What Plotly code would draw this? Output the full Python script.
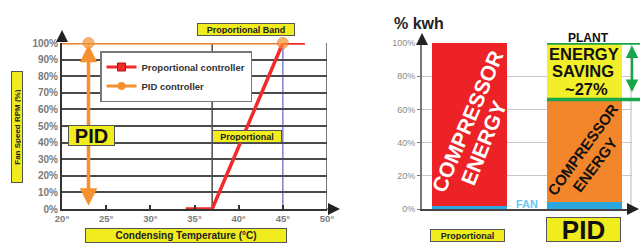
import plotly.graph_objects as go

# ---------------- data ----------------
temps_prop = [34, 37, 45, 47.5]
speed_prop = [0, 0, 100, 100]
temps_pid = [20, 23, 45]
speed_pid = [100, 100, 100]
x_ticks = [20, 25, 30, 35, 40, 45, 50]
x_tick_text = ["20°", "25°", "30°", "35°", "40°", "45°", "50°"]
y1_ticks = list(range(0, 101, 10))
y1_tick_text = [f"{v}%" for v in y1_ticks]
y2_ticks = list(range(0, 101, 20))
y2_tick_text = [f"{v}%" for v in y2_ticks]

bar_labels = ["Proportional", "PID"]
fan_kwh = [2, 4]
compressor_kwh = [98, 62]
saving_kwh = [0, 34]

W, H = 640, 249
FONT = "Liberation Sans"


def px(x):
    return x / W


def py(y):
    return (H - y) / H


fig = go.Figure()

# ---- left chart ----
fig.add_trace(go.Scatter(
    x=temps_prop, y=speed_prop, mode="lines", showlegend=False,
    line=dict(color="#F22A2A", width=3.5), xaxis="x", yaxis="y", cliponaxis=False))
fig.add_trace(go.Scatter(
    x=temps_pid, y=speed_pid, mode="lines+markers", showlegend=False,
    line=dict(color="#E9802E", width=3),
    marker=dict(symbol="circle", size=[0, 11, 11], color="#F7902F"),
    xaxis="x", yaxis="y", cliponaxis=False))
# legend entries
fig.add_trace(go.Scatter(
    x=[None], y=[None], mode="lines+markers", name="<b>Proportional controller</b>",
    line=dict(color="#F22A2A", width=3),
    marker=dict(symbol="square", size=8, color="#F22A2A", line=dict(color="#B01010", width=1)),
    xaxis="x", yaxis="y"))
fig.add_trace(go.Scatter(
    x=[None], y=[None], mode="lines+markers", name="<b>PID controller</b>",
    line=dict(color="#F7902F", width=3),
    marker=dict(symbol="circle", size=8, color="#F7902F"),
    xaxis="x", yaxis="y"))

# ---- right chart (stacked bars) ----
bw = 0.652
fig.add_trace(go.Bar(x=bar_labels, y=fan_kwh, marker=dict(color="#2AA7DF", line=dict(width=0)),
                     width=bw, xaxis="x2", yaxis="y2", showlegend=False))
fig.add_trace(go.Bar(x=bar_labels, y=compressor_kwh, base=fan_kwh,
                     marker=dict(color=["#EC2227", "#F3862B"], line=dict(width=0)),
                     width=bw, xaxis="x2", yaxis="y2", showlegend=False))
fig.add_trace(go.Bar(x=bar_labels, y=saving_kwh,
                     base=[f + c for f, c in zip(fan_kwh, compressor_kwh)],
                     marker=dict(color="#F2EE2A", line=dict(width=0)),
                     width=bw, xaxis="x2", yaxis="y2", showlegend=False))

shapes = []
# left vertical grid lines
for xv, col in [(37, "#4a4a4a"), (45, "#8080D0"), (50, "#4a4a4a")]:
    shapes.append(dict(type="line", xref="x", yref="y", x0=xv, x1=xv, y0=0, y1=100,
                       line=dict(color=col, width=1.5), layer="below"))
# right border grid line
shapes.append(dict(type="line", xref="paper", yref="y2", x0=px(631), x1=px(631), y0=0, y1=100,
                   line=dict(color="#bbbbbb", width=1), layer="below"))
# green saving lines
for yv in [100, 66]:
    shapes.append(dict(type="line", xref="paper", yref="y2", x0=px(547), x1=px(640), y0=yv, y1=yv,
                       line=dict(color="#19A54A", width=3.5)))

ann = []

# arrows (drawn first so labels sit on top)
# PID double arrow (left chart)
ann.append(dict(xref="x", yref="y", x=23, y=99, axref="x", ayref="y", ax=23, ay=1,
                showarrow=True, arrowhead=2, arrowside="end+start", arrowsize=1.0,
                arrowwidth=3.5, arrowcolor="#F7902F", text=""))
# green saving arrow
ann.append(dict(xref="paper", yref="y2", x=px(632), y=98.5, axref="pixel", ayref="pixel",
                ax=0, ay=48, showarrow=True, arrowhead=2, arrowside="end+start",
                arrowsize=1.0, arrowwidth=2.5, arrowcolor="#19A54A", text=""))
# axis arrows
for (x, y, ax, ay) in [(62, 30, 0, 13), (340, 209, -14, 0), (422, 33, 0, 11), (639, 209, -10, 0)]:
    ann.append(dict(xref="paper", yref="paper", x=px(x), y=py(y), ax=ax, ay=ay,
                    showarrow=True, arrowhead=2, arrowsize=1.2, arrowwidth=2,
                    arrowcolor="#222", text=""))


def box(text, x, y, w, h, size, angle=0, color="#222"):
    ann.append(dict(text=f"<b>{text}</b>", xref="paper", yref="paper", x=px(x), y=py(y),
                    showarrow=False, xanchor="center", yanchor="middle",
                    width=w, height=h, bgcolor="#F0EC1E", bordercolor="#555", borderwidth=1,
                    borderpad=1, textangle=angle,
                    font=dict(family=FONT, size=size, color=color)))


def txt(text, x, y, size, color="#111", angle=0):
    ann.append(dict(text=f"<b>{text}</b>", xref="paper", yref="paper", x=px(x), y=py(y),
                    showarrow=False, xanchor="center", yanchor="middle", textangle=angle,
                    font=dict(family=FONT, size=size, color=color)))


box("Proportional Band", 246, 29, 94, 9, 9)
box("Proportional", 247, 136, 66, 9, 9)
box("PID", 91, 135, 43, 17, 20, color="#111")
box("Fan Speed RPM (%)", 17, 127, 108, 8, 8, angle=-90)
box("Condensing Temperature (°C)", 186, 235, 198, 11, 10)
box("Proportional", 467, 235, 71, 9, 9)
box("PID", 583, 229, 71, 21, 26, color="#111")

txt("% kwh", 419, 24, 16, "#222")
txt("PLANT", 588, 38, 12, "#111")
txt("ENERGY", 584, 54, 16.5)
txt("SAVING", 583, 71, 16.5)
txt("~27%", 586, 89, 16.5)
txt("COMPRESSOR", 467, 121, 21, "#ffffff", -67)
txt("ENERGY", 483, 143, 21, "#ffffff", -68)
txt("COMPRESSOR", 583, 150, 15, "#111", -54)
txt("ENERGY", 594, 165, 15, "#111", -53)
txt("FAN", 527, 204, 11, "#6CC6EE")

fig.update_layout(
    width=W, height=H, margin=dict(l=0, r=0, t=0, b=0, autoexpand=False),
    paper_bgcolor="white", plot_bgcolor="white",
    barmode="overlay", bargap=0,
    font=dict(family=FONT),
    xaxis=dict(domain=[px(62), px(327)], range=[20, 50], tickvals=x_ticks,
               ticktext=[f"<b>{t}</b>" for t in x_tick_text],
               showgrid=False, zeroline=False, showline=True, linecolor="#333", linewidth=2,
               ticks="inside", ticklen=4, tickwidth=2, tickcolor="#333", automargin=False,
               tickfont=dict(family=FONT, size=9.5, color="#7a7a7a"), fixedrange=True),
    yaxis=dict(domain=[py(209), py(43)], range=[0, 100], tickvals=y1_ticks,
               ticktext=[f"<b>{t}</b>" for t in y1_tick_text],
               showgrid=True, gridcolor="#4a4a4a", gridwidth=1.5, zeroline=False,
               showline=True, linecolor="#333", linewidth=2, automargin=False,
               tickfont=dict(family=FONT, size=10, color="#7a7a7a"), ticklen=2),
    xaxis2=dict(domain=[px(422), px(632)], range=[-0.413, 1.413], type="category",
                showticklabels=False, showgrid=False, zeroline=False, automargin=False,
                showline=True, linecolor="#444", linewidth=2, anchor="y2"),
    yaxis2=dict(domain=[py(209), py(43)], range=[0, 100], tickvals=y2_ticks, ticktext=y2_tick_text,
                showgrid=True, gridcolor="#c8c8c8", gridwidth=1, zeroline=False,
                showline=True, linecolor="#777", linewidth=2, anchor="x2", automargin=False,
                ticks="outside", ticklen=3, tickcolor="#777",
                tickfont=dict(family=FONT, size=9, color="#8a8a8a")),
    legend=dict(x=px(100), y=py(51), xanchor="left", yanchor="top",
                bgcolor="white", bordercolor="#777", borderwidth=1.5,
                font=dict(family=FONT, size=9.5, color="#333"),
                tracegroupgap=0, itemwidth=30),
    shapes=shapes, annotations=ann, showlegend=True,
)

fig.write_html("out.html", config={"displayModeBar": False},
               post_script="document.body.style.margin='0';document.body.style.overflow='hidden';")
